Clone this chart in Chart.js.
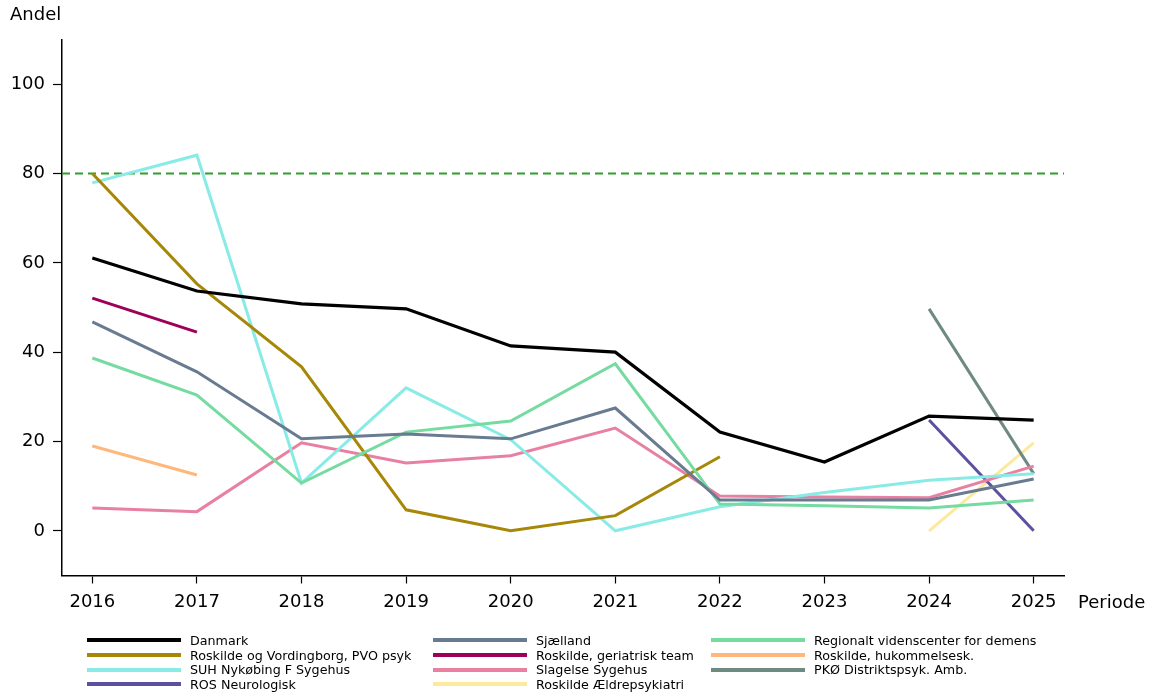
<!DOCTYPE html>
<html>
<head>
<meta charset="utf-8">
<script src="https://cdn.jsdelivr.net/npm/chart.js@4"></script>
<style>
  body { margin: 0; background: #fff; font-family: "DejaVu Sans", sans-serif; }
  #wrap { position: relative; width: 1156px; height: 697px; }
  #legend { position: absolute; left: 87px; top: 633px; display: grid;
            grid-template-columns: 346px 278px 340px; row-gap: 0px; }
  .item { display: flex; align-items: center; height: 14.7px; font-size: 12.7px; color: #000; white-space: nowrap; }
  .item span.sw { display: inline-block; width: 94px; height: 4px; margin-right: 9px; }
</style>
</head>
<body>
<div id="wrap">
  <canvas id="myChart" width="1156" height="697"></canvas>
  <div id="legend"></div>
</div>
<script>
var years = [2016, 2017, 2018, 2019, 2020, 2021, 2022, 2023, 2024, 2025];
var yTicks = [0, 20, 40, 60, 80, 100];
var target = 80;

var danmark      = [61.1, 53.7, 50.8, 49.7, 41.4, 40.0, 22.1, 15.4, 25.7, 24.8];
var sjaelland    = [46.8, 35.6, 20.6, 21.7, 20.6, 27.5, 6.9, 6.9, 6.9, 11.6];
var regionalt    = [38.7, 30.4, 10.7, 22.1, 24.6, 37.4, 6.0, 5.6, 5.1, 6.9];
var pvoPsyk      = [80.0, 55.3, 36.7, 4.7, 0.0, 3.4, 16.6, null, null, null];
var geriatrisk   = [52.1, 44.5, null, null, null, null, null, null, null, null];
var hukommelse   = [19.0, 12.5, null, null, null, null, null, null, null, null];
var suhNykobing  = [77.9, 84.1, 10.7, 32.0, 20.4, 0.0, 5.4, 8.6, 11.3, 12.8];
var slagelse     = [5.1, 4.3, 19.7, 15.2, 16.8, 23.0, 7.8, 7.6, 7.4, 14.5];
var pkoDistrikt  = [null, null, null, null, null, null, null, null, 49.7, 12.8];
var rosNeuro     = [null, null, null, null, null, null, null, null, 24.8, 0.0];
var aeldrepsyk   = [null, null, null, null, null, null, null, null, 0.0, 19.7];

var series = [
  { label: "Danmark", data: danmark, color: "#000000", width: 3.2 },
  { label: "Sjælland", data: sjaelland, color: "#687b91", width: 3 },
  { label: "Regionalt videnscenter for demens", data: regionalt, color: "#76dba0", width: 3 },
  { label: "Roskilde og Vordingborg, PVO psyk", data: pvoPsyk, color: "#a68708", width: 3 },
  { label: "Roskilde, geriatrisk team", data: geriatrisk, color: "#9e0059", width: 3 },
  { label: "Roskilde, hukommelsesk.", data: hukommelse, color: "#ffb77b", width: 3 },
  { label: "SUH Nykøbing F Sygehus", data: suhNykobing, color: "#89ebe5", width: 3 },
  { label: "Slagelse Sygehus", data: slagelse, color: "#e880a2", width: 3 },
  { label: "PKØ Distriktspsyk. Amb.", data: pkoDistrikt, color: "#6f8a83", width: 3 },
  { label: "ROS Neurologisk", data: rosNeuro, color: "#5c50a0", width: 3 },
  { label: "Roskilde Ældrepsykiatri", data: aeldrepsyk, color: "#fde99b", width: 3 }
];

var xMin = 2015.71, xMax = 2025.29;

// Danmark drawn on top of the others
var datasets = series.map(function(s, i) {
  return {
    label: s.label,
    data: s.data.map(function(v, j) { return { x: years[j], y: v }; }),
    borderColor: s.color,
    borderWidth: s.width,
    pointRadius: 0,
    spanGaps: false,
    tension: 0,
    order: i === 0 ? 0 : i + 1
  };
});
datasets.push({
  label: "target",
  data: [{ x: xMin, y: target }, { x: xMax, y: target }],
  borderColor: "#2f9e2f",
  borderWidth: 2,
  borderDash: [8, 5],
  pointRadius: 0,
  order: 100
});

var axisTitles = {
  id: "axisTitles",
  afterDraw: function(chart) {
    var c = chart.ctx;
    c.save();
    c.fillStyle = "#000";
    c.font = "18px 'DejaVu Sans'";
    c.textBaseline = "middle";
    c.textAlign = "left";
    c.fillText("Andel", 10, 15);
    c.fillText("Periode", 1078, 603);
    c.restore();
  }
};

var ctx = document.getElementById("myChart").getContext("2d");
var myChart = new Chart(ctx, {
  type: "line",
  data: { datasets: datasets },
  plugins: [axisTitles],
  options: {
    responsive: false,
    animation: false,
    layout: { padding: { top: 39.5, right: 92, left: 0, bottom: 0 } },
    plugins: { legend: { display: false }, tooltip: { enabled: false } },
    scales: {
      x: {
        type: "linear",
        min: xMin,
        max: xMax,
        afterBuildTicks: function(scale) { scale.ticks = years.map(function(v) { return { value: v }; }); },
        afterFit: function(scale) { scale.height = 121.5; },
        ticks: {
          color: "#000",
          font: { family: "DejaVu Sans", size: 18 },
          padding: 8,
          maxRotation: 0,
          callback: function(v) { return String(v); }
        },
        grid: { drawOnChartArea: false, drawTicks: true, tickLength: 8, color: "#000", tickWidth: 1.2 },
        border: { display: true, color: "#000", width: 1.5 }
      },
      y: {
        min: -10,
        max: 110,
        afterBuildTicks: function(scale) { scale.ticks = yTicks.map(function(v) { return { value: v }; }); },
        afterFit: function(scale) { scale.width = 62; },
        ticks: {
          color: "#000",
          font: { family: "DejaVu Sans", size: 18 },
          padding: 8,
          callback: function(v) { return String(v); }
        },
        grid: { drawOnChartArea: false, drawTicks: true, tickLength: 9, color: "#000", tickWidth: 1.2 },
        border: { display: true, color: "#000", width: 1.5 }
      }
    }
  }
});

// legend in three columns, like the original
var legend = document.getElementById("legend");
series.forEach(function(s) {
  var d = document.createElement("div");
  d.className = "item";
  var sw = document.createElement("span");
  sw.className = "sw";
  sw.style.background = s.color;
  d.appendChild(sw);
  d.appendChild(document.createTextNode(s.label));
  legend.appendChild(d);
});
</script>
</body>
</html>
